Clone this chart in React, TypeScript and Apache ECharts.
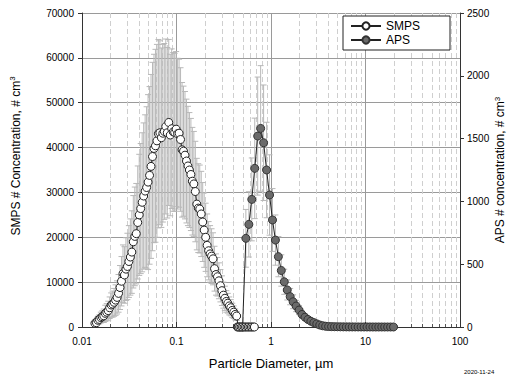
import React, { useEffect, useRef } from "react";
import * as echarts from "echarts";

// SMPS: particle diameter (µm), concentration (# cm^-3), error (±)
const smpsDiameter = [
  0.0137, 0.0142, 0.01472, 0.01526, 0.01582, 0.0164, 0.017, 0.01762, 0.01827, 0.01894,
  0.01963, 0.02035, 0.0211, 0.02187, 0.02267, 0.0235, 0.02436, 0.02526, 0.02618, 0.02714,
  0.02813, 0.02916, 0.03023, 0.03134, 0.03249, 0.03368, 0.03491, 0.03619, 0.03752, 0.03889,
  0.04032, 0.0418, 0.04332, 0.04491, 0.04656, 0.04826, 0.05003, 0.05187, 0.05376, 0.05573,
  0.05777, 0.05989, 0.06208, 0.06436, 0.06671, 0.06916, 0.07169, 0.07432, 0.07704, 0.07987,
  0.08279, 0.08583, 0.08896, 0.09223, 0.0956, 0.0991, 0.1027, 0.1065, 0.1104, 0.1145,
  0.1186, 0.123, 0.1275, 0.1322, 0.137, 0.142, 0.1472, 0.1526, 0.1582, 0.164,
  0.17, 0.1762, 0.1827, 0.1894, 0.1963, 0.2035, 0.211, 0.2187, 0.2267, 0.235,
  0.2436, 0.2526, 0.2618, 0.2714, 0.2813, 0.2916, 0.3023, 0.3134, 0.3249, 0.3368,
  0.3491, 0.3619, 0.3752, 0.3889, 0.4032, 0.418, 0.4332, 0.4491, 0.4656, 0.4826,
  0.5003, 0.5187, 0.5376, 0.5573, 0.5777, 0.5989, 0.6208, 0.6436, 0.6671,
];
const smpsConc = [
  820, 960, 1500, 1700, 2100, 2300, 2500, 3050, 3300, 3650,
  4300, 4900, 5100, 5500, 6000, 6600, 7500, 8800, 10200, 11900,
  11600, 12900, 13500, 14600, 15600, 16700, 19000, 20200, 20800, 23300,
  25000, 26400, 27800, 29200, 30300, 31100, 32300, 33800, 35800, 38000,
  39800, 40400, 41500, 43100, 43300, 42200, 43200, 43600, 44700, 43300,
  45600, 42800, 44200, 43500, 43400, 44100, 43100, 43200, 41800, 39500,
  39200, 38300, 37000, 35900, 35000, 34000, 32500, 31900, 30200, 27400,
  26500, 26300, 25200, 23400, 21600, 20000, 18200, 17000, 16300, 15800,
  15200, 13000, 11700, 11200, 10300, 9200, 8100, 7100, 6400, 5700,
  5300, 4700, 4300, 3700, 3300, 2800, 2450, 0, 0, 0,
  0, 0, 0, 0, 0, 0, 0, 0, 0,
];
const smpsErr = [
  600, 650, 900, 1000, 1200, 1300, 1500, 1800, 1900, 2100,
  2400, 2700, 2900, 3100, 3400, 3700, 4200, 4900, 5500, 6400,
  6300, 7000, 7400, 8000, 8500, 9200, 10300, 11000, 11200, 12600,
  13500, 14500, 15500, 16300, 17000, 18000, 19500, 19800, 20500, 21000,
  21000, 21500, 21500, 21000, 20500, 20000, 19800, 19600, 19500, 19000,
  18500, 18000, 17800, 17700, 17600, 17300, 16800, 16500, 16000, 15000,
  14500, 14200, 13800, 13300, 12800, 12500, 12000, 11700, 11200, 10200,
  9900, 9800, 9500, 8800, 8300, 7600, 7000, 6500, 6300, 6100,
  5800, 5000, 4600, 4300, 4000, 3600, 3300, 2900, 2700, 2400,
  2200, 2000, 1800, 1600, 1400, 1200, 1000, 0, 0, 0,
  0, 0, 0, 0, 0, 0, 0, 0, 0,
];

// APS: particle diameter (µm), concentration (# cm^-3), error (±)
const apsDiameter = [
  0.44, 0.47, 0.5, 0.542, 0.583, 0.626, 0.673, 0.723, 0.777, 0.835,
  0.898, 0.965, 1.037, 1.114, 1.197, 1.286, 1.382, 1.486, 1.596, 1.715,
  1.843, 1.981, 2.129, 2.288, 2.458, 2.642, 2.839, 3.051, 3.278, 3.523,
  3.786, 4.068, 4.371, 4.698, 5.048, 5.425, 5.829, 6.264, 6.732, 7.234,
  7.774, 8.354, 8.977, 9.647, 10.37, 11.14, 11.97, 12.86, 13.82, 14.86,
  15.96, 17.15, 18.43, 19.81,
];
const apsConc = [
  0, 0, 0, 706, 817, 1016, 1263, 1520, 1581, 1467,
  1250, 1051, 852, 692, 560, 450, 360, 295, 242, 201,
  167, 135, 100, 78, 60, 46, 35, 25, 16, 10,
  6, 4, 3, 2.5, 2, 1.5, 1.2, 1, 0.8, 0.7,
  0.6, 0.5, 0.4, 0.4, 0.3, 0.3, 0.2, 0.2, 0.2, 0.1,
  0.1, 0.1, 0.1, 0.1,
];
const apsErr = [
  0, 0, 0, 230, 260, 330, 400, 470, 500, 460,
  380, 320, 250, 200, 160, 125, 100, 80, 65, 55,
  45, 36, 28, 20, 15, 11, 8, 6, 4, 3,
  2, 1.5, 1, 0, 0, 0, 0, 0, 0, 0,
  0, 0, 0, 0, 0, 0, 0, 0, 0, 0,
  0, 0, 0, 0,
];

const xTickLabels = ["0.01", "0.1", "1", "10", "100"];
const leftTicks = [0, 10000, 20000, 30000, 40000, 50000, 60000, 70000];
const rightTicks = [0, 500, 1000, 1500, 2000, 2500];
const decades = [0.01, 0.1, 1, 10];
const minorSteps = [2, 3, 4, 5, 6, 7, 8, 9];

const FONT = "'Liberation Sans', Arial, Helvetica, sans-serif";

function errorRenderer(color: string) {
  return (params: any, api: any) => {
    const x = api.value(0);
    const lo = api.value(1);
    const hi = api.value(2);
    if (!(hi > lo)) return null;
    const pHi = api.coord([x, hi]);
    const pLo = api.coord([x, lo]);
    const w = 3;
    const style = { stroke: color, lineWidth: 1, fill: null };
    return {
      type: "group",
      children: [
        { type: "line", shape: { x1: pHi[0], y1: pHi[1], x2: pLo[0], y2: pLo[1] }, style },
        { type: "line", shape: { x1: pHi[0] - w, y1: pHi[1], x2: pHi[0] + w, y2: pHi[1] }, style },
        { type: "line", shape: { x1: pLo[0] - w, y1: pLo[1], x2: pLo[0] + w, y2: pLo[1] }, style },
      ],
    };
  };
}

export default function App() {
  const ref = useRef<HTMLDivElement>(null);

  useEffect(() => {
    if (!ref.current) return;
    const chart = echarts.init(ref.current, undefined, { renderer: "svg" });

    const minorData: number[][] = [];
    decades.forEach((d) => minorSteps.forEach((m) => minorData.push([d * m, 0])));

    const smpsData = smpsDiameter.map((d, i) => [d, smpsConc[i]]);
    const apsData = apsDiameter.map((d, i) => [d, apsConc[i]]);
    const smpsErrData = smpsDiameter.map((d, i) => [d, smpsConc[i] - smpsErr[i], smpsConc[i] + smpsErr[i]]);
    const apsErrData = apsDiameter.map((d, i) => [d, apsConc[i] - apsErr[i], apsConc[i] + apsErr[i]]);

    const option: any = {
      animation: false,
      backgroundColor: "#fff",
      textStyle: { fontFamily: FONT },
      grid: { left: 82, right: 51, top: 13, bottom: 54, containLabel: false, outerBoundsMode: "none" },
      legend: {
        left: 343,
        top: 16,
        orient: "vertical",
        data: ["SMPS", "APS"],
        borderColor: "#222",
        borderWidth: 1,
        padding: [4, 30, 4, 7],
        itemGap: 2,
        itemWidth: 30,
        itemHeight: 9,
        backgroundColor: "#fff",
        textStyle: { fontSize: 12, fontFamily: FONT, color: "#000" },
      },
      xAxis: {
        type: "log",
        logBase: 10,
        min: 0.01,
        max: 100,
        name: "Particle Diameter, µm",
        nameLocation: "middle",
        nameGap: 30,
        nameTextStyle: { fontSize: 13, fontFamily: FONT, color: "#000" },
        axisLine: { show: true, lineStyle: { color: "#333", width: 1 } },
        axisTick: { show: true, inside: true, length: 5, lineStyle: { color: "#333" } },
        axisLabel: {
          fontSize: 10,
          color: "#000",
          margin: 9,
          fontFamily: FONT,
          formatter: (v: number) => xTickLabels[Math.round(Math.log10(v)) + 2] ?? "",
        },
        splitLine: { show: true, lineStyle: { color: "#9a9a9a", width: 1 } },
        minorTick: { show: false },
      },
      yAxis: [
        {
          type: "value",
          min: leftTicks[0],
          max: leftTicks[leftTicks.length - 1],
          interval: 10000,
          name: "SMPS # Concentration, # cm{sup|3}",
          nameLocation: "middle",
          nameGap: 58,
          nameRotate: 90,
          nameTextStyle: {
            fontSize: 12,
            fontFamily: FONT,
            color: "#000",
            padding: [0, 0, 0, 28],
            lineHeight: 16,
            rich: { sup: { fontSize: 8, verticalAlign: "top", fontFamily: FONT, color: "#000", lineHeight: 16 } },
          },
          axisLine: { show: true, lineStyle: { color: "#333", width: 1 } },
          axisTick: { show: true, inside: false, length: 4, lineStyle: { color: "#333" } },
          axisLabel: {
            fontSize: 10,
            color: "#000",
            margin: 8,
            fontFamily: FONT,
            formatter: (v: number) => String(v),
          },
          splitLine: { show: true, lineStyle: { color: "#9a9a9a", width: 1 } },
        },
        {
          type: "value",
          position: "right",
          min: rightTicks[0],
          max: rightTicks[rightTicks.length - 1],
          interval: 500,
          name: "APS # concentration, # cm{sup|3}",
          nameLocation: "middle",
          nameGap: 33,
          nameMoveOverlap: false,
          nameRotate: 90,
          nameTextStyle: {
            fontSize: 12,
            fontFamily: FONT,
            color: "#000",
            lineHeight: 13,
            rich: { sup: { fontSize: 8, verticalAlign: "top", fontFamily: FONT, color: "#000", lineHeight: 13 } },
          },
          axisLine: { show: true, lineStyle: { color: "#333", width: 1 } },
          axisTick: { show: true, inside: false, length: 4, lineStyle: { color: "#333" } },
          axisLabel: {
            fontSize: 10,
            color: "#000",
            margin: 7,
            fontFamily: FONT,
            formatter: (v: number) => String(v),
          },
          splitLine: { show: false },
        },
      ],
      graphic: [
        {
          type: "text",
          left: 464,
          top: 369,
          silent: true,
          style: { text: "2020-11-24", fontSize: 6, fontFamily: FONT, fill: "#000" },
        },
      ],
      series: [
        {
          name: "minorGrid",
          type: "custom",
          silent: true,
          z: 1,
          xAxisIndex: 0,
          yAxisIndex: 0,
          encode: { x: 0, y: 1 },
          data: minorData,
          renderItem: (params: any, api: any) => {
            const cs = params.coordSys;
            const x = Math.round(api.coord([api.value(0), 0])[0]) + 0.5;
            return {
              type: "group",
              children: [
                {
                  type: "line",
                  shape: { x1: x, y1: cs.y, x2: x, y2: cs.y + cs.height },
                  style: { stroke: "#cfcfcf", lineWidth: 1, lineDash: [5, 3] },
                },
                {
                  type: "line",
                  shape: { x1: x, y1: cs.y + cs.height - 3, x2: x, y2: cs.y + cs.height },
                  style: { stroke: "#555", lineWidth: 1 },
                },
              ],
            };
          },
        },
        {
          name: "SMPS error",
          type: "custom",
          silent: true,
          z: 2,
          xAxisIndex: 0,
          yAxisIndex: 0,
          encode: { x: 0, y: [1, 2] },
          data: smpsErrData,
          renderItem: errorRenderer("#b8b8b8"),
        },
        {
          name: "APS error",
          type: "custom",
          silent: true,
          z: 2,
          xAxisIndex: 0,
          yAxisIndex: 1,
          encode: { x: 0, y: [1, 2] },
          data: apsErrData,
          renderItem: errorRenderer("#b8b8b8"),
        },
        {
          name: "APS",
          type: "line",
          xAxisIndex: 0,
          yAxisIndex: 1,
          z: 3,
          data: apsData,
          symbol: "circle",
          symbolSize: 8,
          showSymbol: true,
          showAllSymbol: true,
          lineStyle: { color: "#222", width: 1 },
          itemStyle: { color: "#6a6a6a", borderColor: "#333", borderWidth: 1 },
        },
        {
          name: "SMPS",
          type: "line",
          xAxisIndex: 0,
          yAxisIndex: 0,
          z: 4,
          data: smpsData,
          symbol: "circle",
          symbolSize: 8,
          showSymbol: true,
          showAllSymbol: true,
          lineStyle: { color: "#222", width: 1 },
          itemStyle: { color: "#ffffff", borderColor: "#222", borderWidth: 1 },
        },
      ],
    };

    chart.setOption(option);
    return () => chart.dispose();
  }, []);

  return (
    <div
      ref={ref}
      style={{ position: "fixed", left: 0, top: 0, width: 511, height: 381, background: "#fff" }}
    />
  );
}
